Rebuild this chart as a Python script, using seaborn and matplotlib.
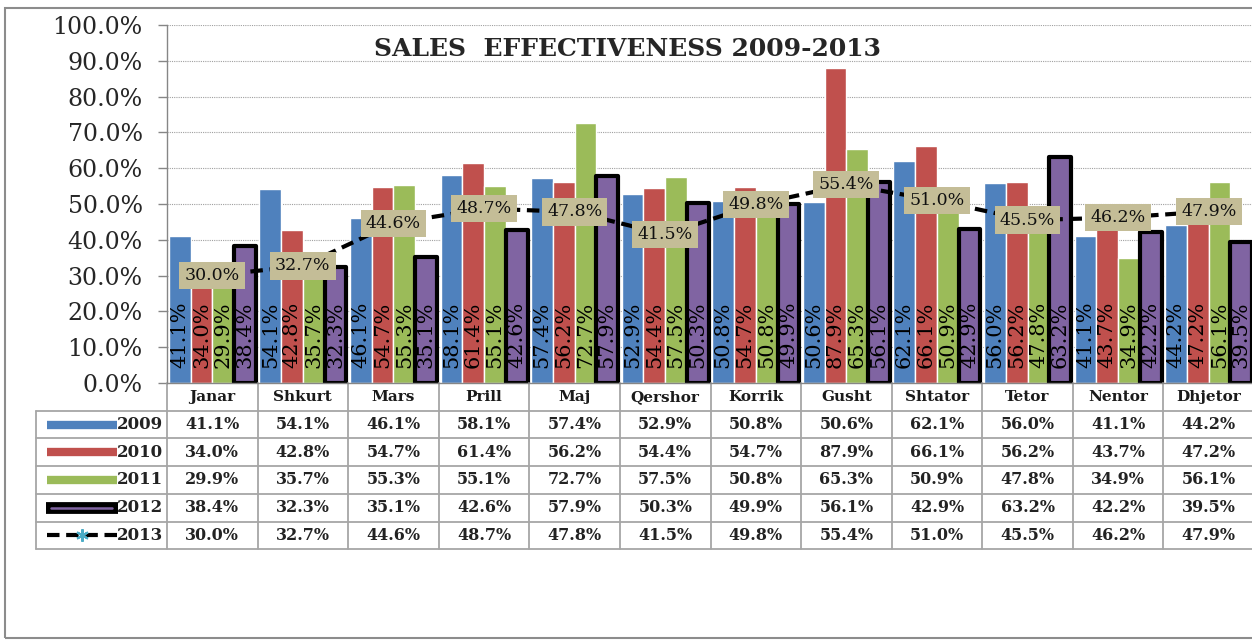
import numpy as np
import pandas as pd
import matplotlib
matplotlib.use("Agg")
import matplotlib.pyplot as plt
from matplotlib.lines import Line2D
from matplotlib.patches import Rectangle
import seaborn as sns

months = ["Janar", "Shkurt", "Mars", "Prill", "Maj", "Qershor",
          "Korrik", "Gusht", "Shtator", "Tetor", "Nentor", "Dhjetor"]
sales_2009 = [41.1, 54.1, 46.1, 58.1, 57.4, 52.9, 50.8, 50.6, 62.1, 56.0, 41.1, 44.2]
sales_2010 = [34.0, 42.8, 54.7, 61.4, 56.2, 54.4, 54.7, 87.9, 66.1, 56.2, 43.7, 47.2]
sales_2011 = [29.9, 35.7, 55.3, 55.1, 72.7, 57.5, 50.8, 65.3, 50.9, 47.8, 34.9, 56.1]
sales_2012 = [38.4, 32.3, 35.1, 42.6, 57.9, 50.3, 49.9, 56.1, 42.9, 63.2, 42.2, 39.5]
sales_2013 = [30.0, 32.7, 44.6, 48.7, 47.8, 41.5, 49.8, 55.4, 51.0, 45.5, 46.2, 47.9]
bar_years = ["2009", "2010", "2011", "2012"]
line_year = "2013"
title = "SALES  EFFECTIVENESS 2009-2013"

bar_colors = ["#4F81BD", "#C0504D", "#9BBB59", "#8064A2"]
label_box = "#C4BD97"
grid_grey = "#A6A6A6"

sns.set_style("white")
plt.rcParams["font.family"] = ["DejaVu Serif"]

W, H = 1252, 640
fig = plt.figure(figsize=(W / 100, H / 100), dpi=100)
ax = fig.add_axes([167 / W, 1 - 383 / H, 1087 / W, 358 / H])

# long table for the grouped bars
bar_series = [sales_2009, sales_2010, sales_2011, sales_2012]
df = pd.DataFrame({
    "month": months * len(bar_years),
    "value": np.concatenate(bar_series),
    "year": np.repeat(bar_years, len(months)),
})
sns.barplot(data=df, x="month", y="value", hue="year", order=months,
            hue_order=bar_years, palette=bar_colors, saturation=1,
            width=0.96, errorbar=None, legend=False, ax=ax, zorder=2)

for i, cont in enumerate(ax.containers):
    for bar in cont:
        if i == 3:
            bar.set_edgecolor("black")
            bar.set_linewidth(3)
            bar.set_joinstyle("round")
        ax.annotate(f"{bar.get_height():.1f}%",
                    (bar.get_x() + bar.get_width() / 2, 0),
                    xytext=(0, 11), textcoords="offset points",
                    rotation=90, ha="center", va="bottom",
                    fontsize=15, color="black", zorder=3)

# 2013 dashed line with boxed labels
sns.lineplot(x=months, y=sales_2013, sort=False, color="black",
             linewidth=3, ax=ax, zorder=4)
ln = ax.lines[-1]
ln.set_dashes([3, 1.6])
ln.set_dash_capstyle("butt")
for i, v in enumerate(sales_2013):
    ax.text(i, v, f"{v:.1f}%", ha="center", va="center", fontsize=12.5,
            color="#111111", zorder=6,
            bbox=dict(boxstyle="square,pad=0.3", fc=label_box, ec="none"))

n = len(months)
ax.set_xlim(-0.5, n - 0.5)
ax.set_ylim(0, 100)
ax.set_yticks(np.arange(0, 101, 10))
ax.yaxis.set_major_formatter(plt.FuncFormatter(lambda v, p: f"{v:.1f}%"))
ax.tick_params(axis="y", left=True, length=6.5, width=1, color="#868686",
               pad=11, labelsize=17)
ax.tick_params(axis="x", bottom=False, labelbottom=False)
ax.set_xlabel("")
ax.set_ylabel("")
ax.yaxis.grid(True, linestyle=(0, (1, 1)), color="#A0A0A0", linewidth=0.8)
ax.set_axisbelow(True)
for s in ["top", "right"]:
    ax.spines[s].set_visible(False)
for s in ["left", "bottom"]:
    ax.spines[s].set_color("#868686")
    ax.spines[s].set_linewidth(1)

# data table under the chart
rh = 27.7 / 358
x0 = -(167 - 35.7) / 1087
tr = ax.transAxes
tkw = dict(transform=tr, clip_on=False, color=grid_grey, linewidth=1.3)
for k in range(n + 1):
    ax.add_line(Line2D([k / n, k / n], [0, -6 * rh], **tkw))
ax.add_line(Line2D([x0, x0], [-rh, -6 * rh], **tkw))
for r in range(1, 7):
    ax.add_line(Line2D([x0, 1.01], [-r * rh, -r * rh], **tkw))

for k, m in enumerate(months):
    ax.text((k + 0.5) / n, -0.5 * rh, m, transform=tr, ha="center",
            va="center", fontsize=11, fontweight="bold", color="#1a1a1a")

table_rows = bar_series + [sales_2013]
row_names = bar_years + [line_year]
sw0, sw1 = (46.7 - 167) / 1087, (116.7 - 167) / 1087
for r, (name, vals) in enumerate(zip(row_names, table_rows), start=1):
    yc = -(r + 0.5) * rh
    for k, v in enumerate(vals):
        ax.text((k + 0.5) / n, yc, f"{v:.1f}%", transform=tr, ha="center",
                va="center", fontsize=11.5, fontweight="semibold", color="#222222")
    ax.text(-4 / 1087, yc, name, transform=tr, ha="right", va="center",
            fontsize=12, fontweight="semibold", color="#222222")
    if r <= 3:
        ax.add_line(Line2D([sw0, sw1], [yc, yc], transform=tr, clip_on=False,
                           color=bar_colors[r - 1], linewidth=6,
                           solid_capstyle="butt"))
    elif r == 4:
        ax.add_line(Line2D([sw0 - 0.001, sw1 + 0.001], [yc, yc], transform=tr,
                           clip_on=False, color="black", linewidth=8.5,
                           solid_capstyle="butt"))
        ax.add_line(Line2D([sw0 + 0.004, sw1 - 0.004], [yc, yc], transform=tr,
                           clip_on=False, color=bar_colors[3], linewidth=1.8))
    else:
        ax.add_line(Line2D([sw0, sw1], [yc, yc], transform=tr, clip_on=False,
                           color="black", linewidth=3, dashes=[3, 1.6]))
        ax.add_line(Line2D([(sw0 + sw1) / 2], [yc], transform=tr, clip_on=False,
                           marker=(6, 2, 0), markersize=9, color="#4BACC6",
                           markeredgewidth=1.5, linestyle="none"))

fig.text(627 / W, 1 - 49 / H, title, ha="center", va="center",
         fontsize=18, fontweight="bold")

fig.add_artist(Rectangle((4.5 / W, 2 / H), 2, 1 - 10 / H, transform=fig.transFigure,
                         fill=False, edgecolor="#8C8C8C", linewidth=1.5))

fig.savefig("out.png", dpi=100)
